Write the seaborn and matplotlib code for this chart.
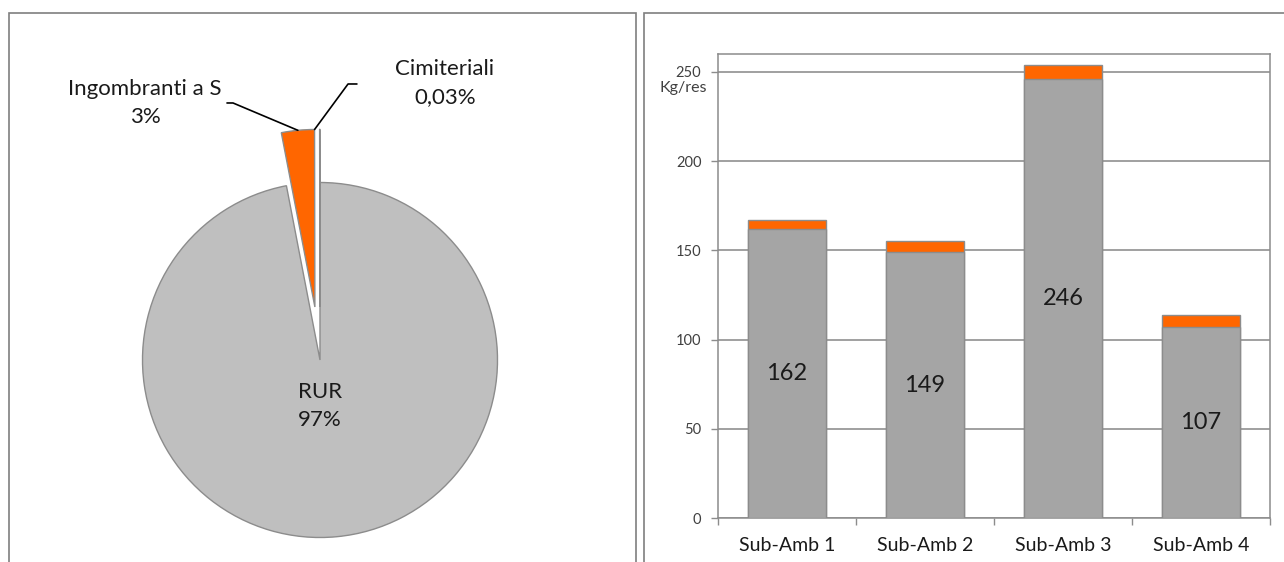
import numpy as np
import pandas as pd
import matplotlib.pyplot as plt
import seaborn as sns
from matplotlib.patches import Rectangle

# Pie data: share of collected waste
pie_labels = ['RUR', 'Ingombranti a S', 'Cimiteriali']
pie_values = [96.97, 3.0, 0.03]
pie_pct = ['97%', '3%', '0,03%']

# Bar data: kg per resident by sub-area
sub_ambiti = ['Sub-Amb 1', 'Sub-Amb 2', 'Sub-Amb 3', 'Sub-Amb 4']
rur = [162, 149, 246, 107]
ingombranti = [5, 6, 8, 7]
yticks = [0, 50, 100, 150, 200, 250]

sns.set_theme(style='white')
plt.rcParams['font.family'] = ['Lato', 'DejaVu Sans']

W, H = 1284, 562
fig = plt.figure(figsize=(W / 100, H / 100), dpi=100)

grey_edge = '#8c8c8c'
orange = '#ff6600'
txt = '#1a1a1a'

# panel frames
for x0, x1 in [(9, 636), (644, 1300)]:
    fig.add_artist(Rectangle((x0 / W, -0.1), (x1 - x0) / W, 1 - 13 / H + 0.1,
                             transform=fig.transFigure, fill=False,
                             ec='#7f7f7f', lw=1.2))

# ---- pie ----
R = 177.5
lim = 1.8
cx, cy = 320, 360
size = 2 * lim * R
ax1 = fig.add_axes([(cx - lim * R) / W, (H - cy - lim * R) / H, size / W, size / H])
wedges, _ = ax1.pie(pie_values, startangle=90, counterclock=False,
                    explode=[0, 0.3, 0.3],
                    colors=['#bfbfbf', orange, '#a5a5a5'],
                    wedgeprops=dict(edgecolor=grey_edge, linewidth=1.0))
ax1.set_xlim(-lim, lim)
ax1.set_ylim(-lim, lim)
ax1.set_aspect('equal')
ax1.axis('off')

ax1.text(0, -0.26, pie_labels[0] + '\n' + pie_pct[0], ha='center', va='center',
         fontsize=16, color=txt, linespacing=1.5)


def outer_point(w, a_deg):
    a = np.deg2rad(a_deg)
    return w.center[0] + w.r * np.cos(a), w.center[1] + w.r * np.sin(a)


# leader lines + labels for the small slices
p_ing = outer_point(wedges[1], (wedges[1].theta1 + wedges[1].theta2) / 2)
p_cim = outer_point(wedges[1], wedges[1].theta1)
leaders = [(p_ing, (-0.49, 1.448), (-0.524, 1.448), (-0.986, 1.448)),
           (p_cim, (0.158, 1.555), (0.208, 1.555), (0.704, 1.56))]
for (p, elbow, end, lab), name, pct in zip(leaders, pie_labels[1:], pie_pct[1:]):
    ax1.plot([p[0], elbow[0], end[0]], [p[1], elbow[1], end[1]], color='black',
             lw=1.2, clip_on=False)
    ax1.text(lab[0], lab[1], name + '\n' + pct, ha='center', va='center',
             fontsize=16, color=txt, linespacing=1.55)

# ---- stacked bars ----
ax2 = fig.add_axes([718 / W, 1 - 518 / H, (1270 - 718) / W, (518 - 54) / H])
df = pd.DataFrame({'sub': sub_ambiti, 'rur': rur,
                   'tot': np.add(rur, ingombranti)})
sns.barplot(data=df, x='sub', y='tot', color=orange, width=0.56, saturation=1,
            edgecolor=grey_edge, linewidth=1, errorbar=None, ax=ax2, zorder=2)
sns.barplot(data=df, x='sub', y='rur', color='#a5a5a5', width=0.56, saturation=1,
            edgecolor=grey_edge, linewidth=1, errorbar=None, ax=ax2, zorder=3)
ax2.bar_label(ax2.containers[1], labels=[str(v) for v in rur],
              label_type='center', fontsize=17, color=txt)

ax2.set_ylim(0, 260)
ax2.set_xlim(-0.5, 3.5)
ax2.set_yticks(yticks)
ax2.set_xticks(np.arange(-0.5, 4, 1), minor=True)
ax2.yaxis.grid(True, color='#868686', lw=1.1)
ax2.set_axisbelow(True)
ax2.set_xlabel('')
ax2.set_ylabel('')
for s in ax2.spines.values():
    s.set_color(grey_edge)
    s.set_linewidth(1.1)
ax2.tick_params(axis='y', left=True, length=5, width=1, color=grey_edge,
                pad=7, labelsize=10.5, labelcolor='#404040')
ax2.tick_params(axis='x', which='major', bottom=True, length=0, pad=14,
                labelsize=14, labelcolor=txt)
ax2.tick_params(axis='x', which='minor', bottom=True, length=5, width=1,
                color=grey_edge)
ax2.text(-0.02, 241, 'Kg/res', transform=ax2.get_yaxis_transform(),
         ha='right', va='center', fontsize=11.5, color='#404040')

fig.savefig('out.png', dpi=100)
